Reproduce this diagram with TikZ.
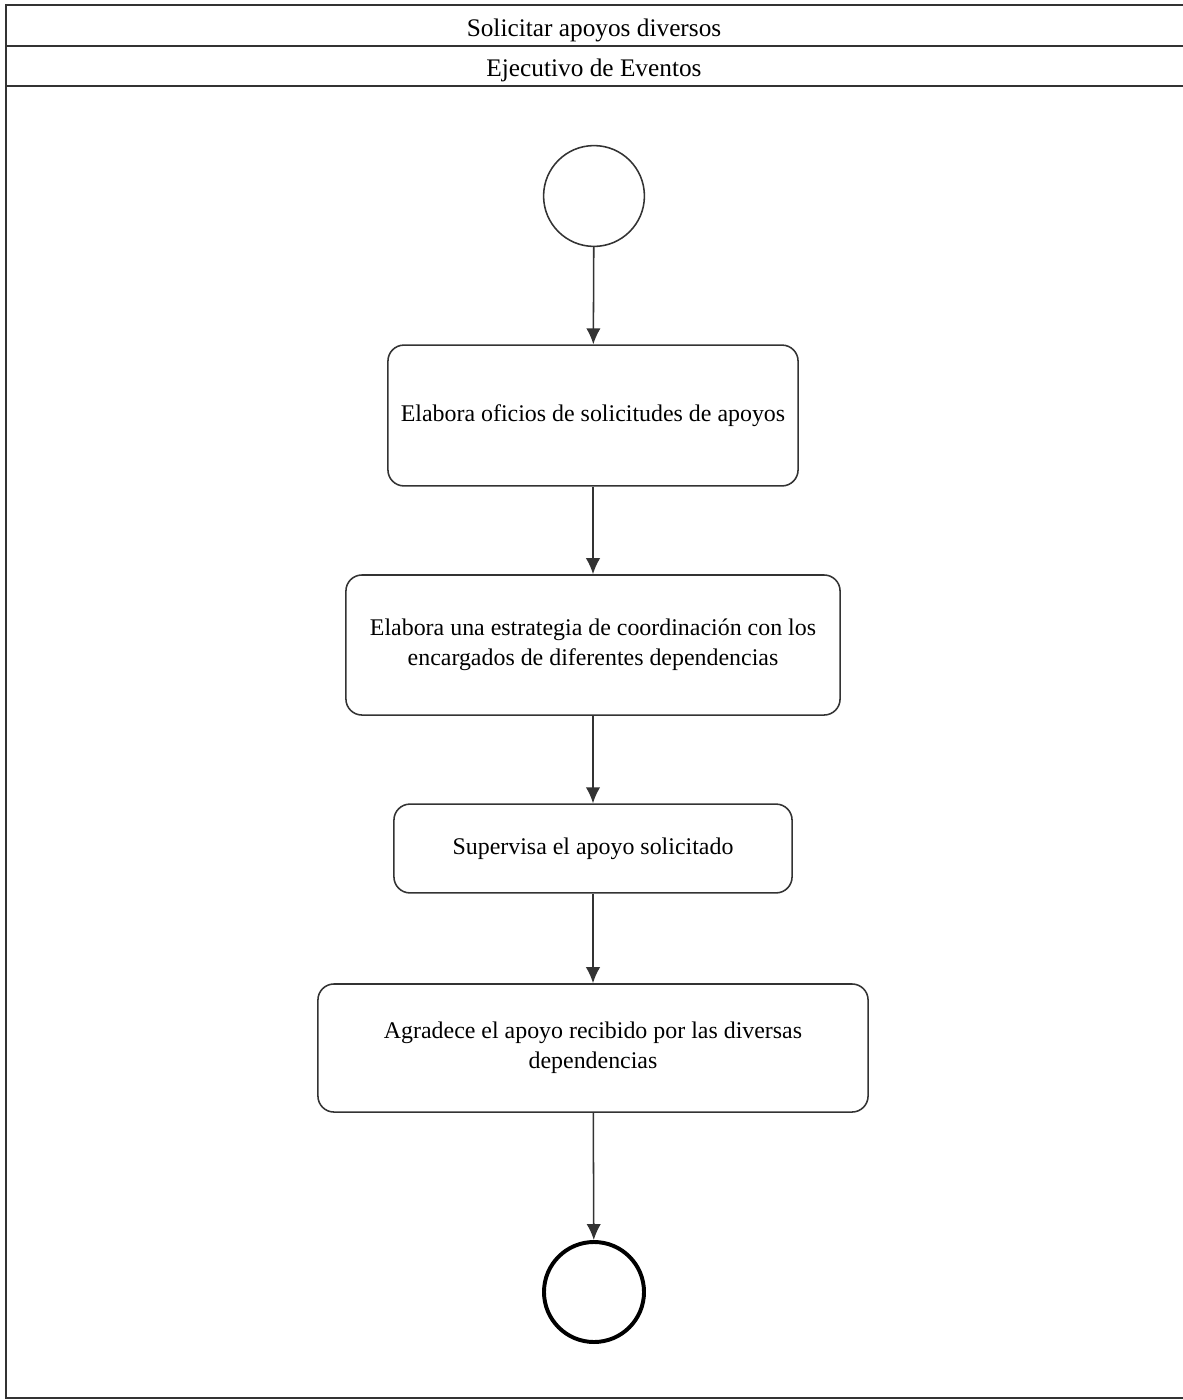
\documentclass[tikz,border=0pt]{standalone}
\usepackage{fontspec}
\setmainfont{Liberation Serif}
\usetikzlibrary{shapes,arrows,arrows.meta,positioning,calc}

\begin{document}
\begin{tikzpicture}[x=0.025cm, y=-0.025cm, auto,
			block/.style={rectangle, draw=black!80, line width=1.1pt, fill=white,
				text centered, rounded corners=0.4cm, font=\fontsize{17}{21}\selectfont},
			line/.style={draw, line width=1.1pt, black!80, -{Latex[length=0.4cm,width=0.36cm]}},
			startnode/.style={circle, draw=black!80, line width=1.1pt, minimum size=2.52cm, inner sep=0pt},
			endnode/.style={circle, draw=black, line width=2.8pt, minimum size=2.5cm, inner sep=0pt},
			header/.style={font=\fontsize{18}{22}\selectfont}]
			
			% Frame and lane
			\useasboundingbox (0,0) rectangle (1183,1400);
			\draw[line width=1.1pt, black!80] (1190,5) -- (6,5) -- (6,1398) -- (1190,1398);
			\draw[very thick, black!80] (6,46) -- (1190,46);
			\draw[very thick, black!80] (6,86) -- (1190,86);
			\node[header] (title) at (594,30) {Solicitar apoyos diversos};
			\node[header] (lane) at (594,70) {Ejecutivo de Eventos};
			
			% Activities
			\node[startnode] (S) at (594,196) {};
			\node[block, minimum width=10.25cm, minimum height=3.52cm] (A1) at (593,415.5)
				{Elabora oficios de solicitudes de apoyos};
			\node[block, minimum width=12.35cm, minimum height=3.5cm, align=center] (A2) at (593,645)
				{Elabora una estrategia de coordinación con los\\encargados de diferentes dependencias};
			\node[block, minimum width=9.95cm, minimum height=2.22cm] (A3) at (593,848.5)
				{Supervisa el apoyo solicitado};
			\node[block, minimum width=13.75cm, minimum height=3.2cm, align=center] (A4) at (593,1048)
				{Agradece el apoyo recibido por las diversas\\dependencias};
			\node[endnode] (E) at (594,1292) {};
			
			% Flow
			\path[line] (S) -- (A1);
			\path[line] (A1) -- (A2);
			\path[line] (A2) -- (A3);
			\path[line] (A3) -- (A4);
			\path[line] (A4) -- (E);
		\end{tikzpicture}
\end{document}
